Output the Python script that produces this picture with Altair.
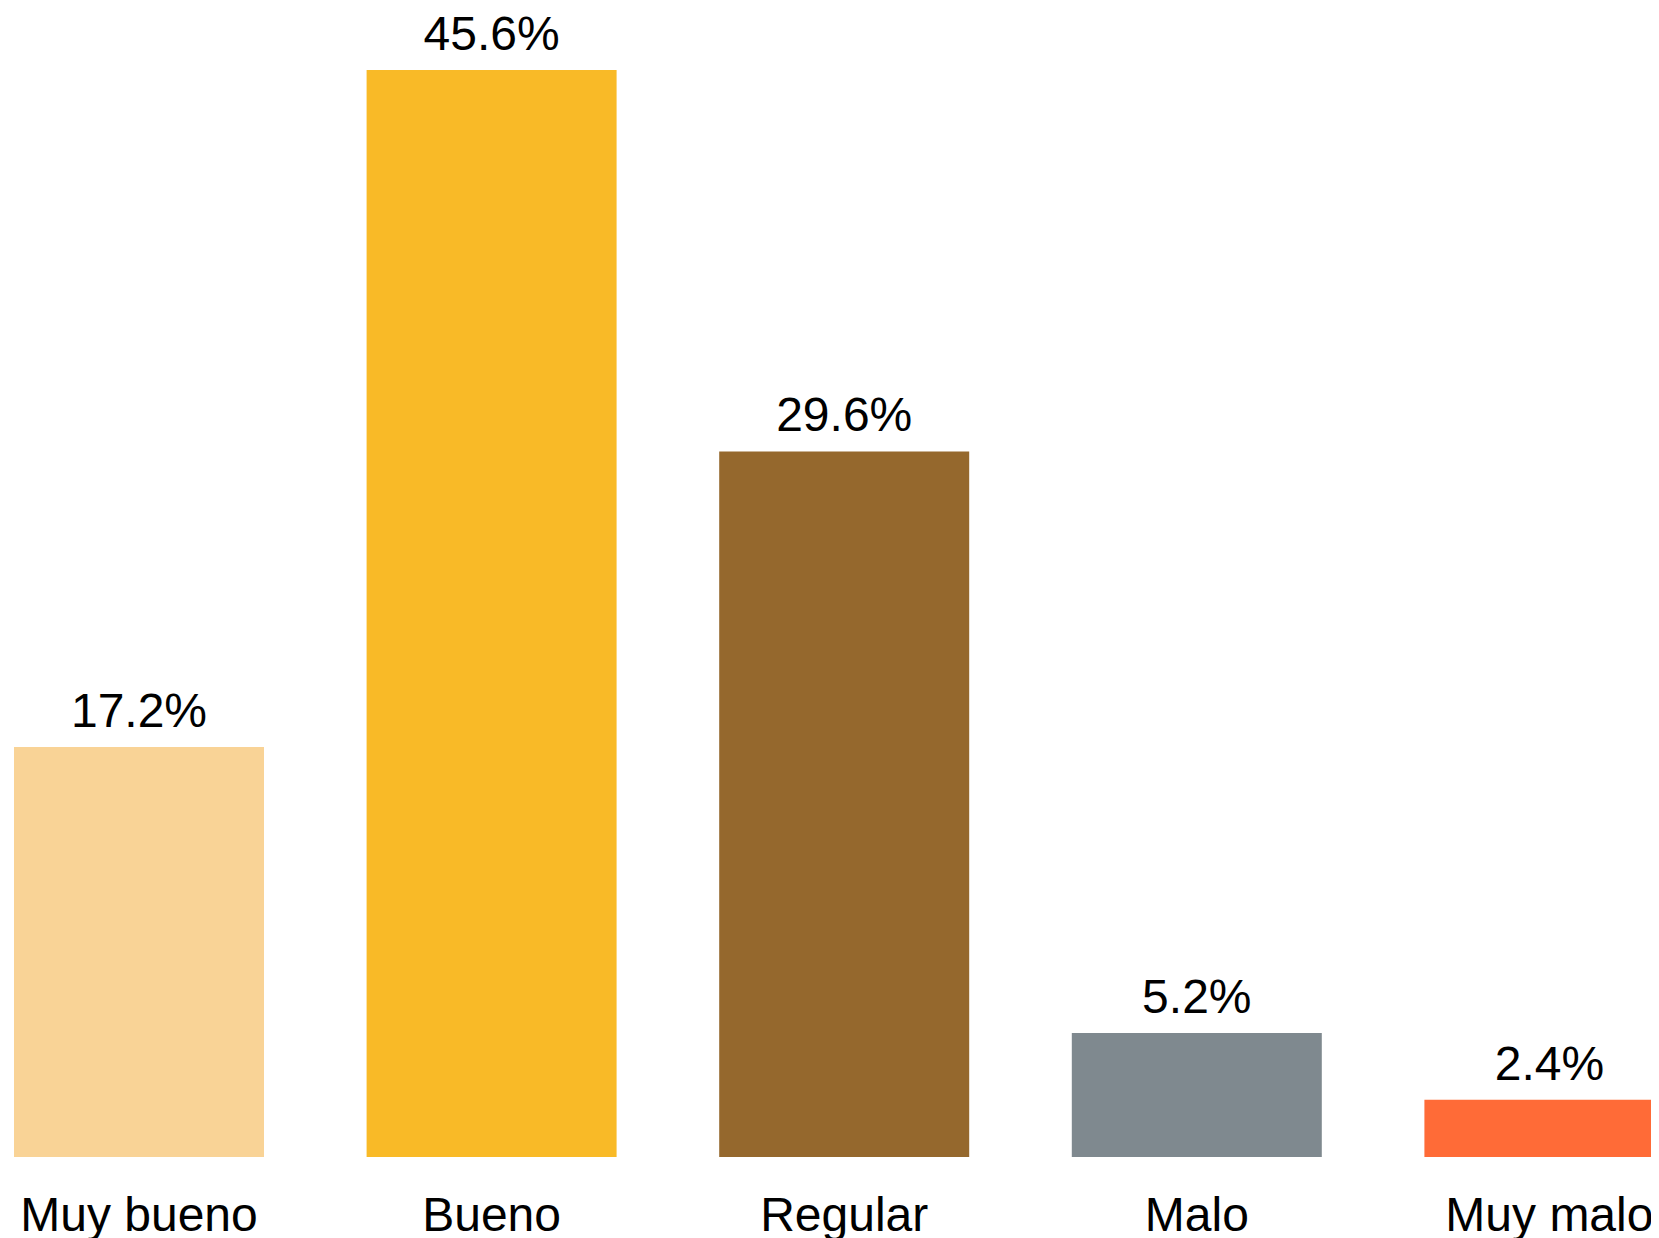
import altair as alt
import pandas as pd

categories = ["Muy bueno", "Bueno", "Regular", "Malo", "Muy malo"]
values = [17.2, 45.6, 29.6, 5.2, 2.4]
colors = ["#F9D396", "#F9BA27", "#95682D", "#7F898F", "#FF6B37"]
labels = [f"{v:.1f}%" for v in values]

df = pd.DataFrame({"cat": categories, "val": values, "label": labels})

FONT = "Liberation Sans"

x = alt.X(
    "cat:N",
    sort=categories,
    title=None,
    scale=alt.Scale(paddingInner=0.291, paddingOuter=0, range=[0, 1660.4]),
    axis=alt.Axis(
        domain=False,
        ticks=False,
        labelFontSize=48,
        labelFont=FONT,
        labelColor="#000000",
        labelBaseline="alphabetic",
        labelPadding=73,
        labelAngle=0,
        labelOverlap=False,
        labelLimit=0,
    ),
)
y = alt.Y(
    "val:Q",
    title=None,
    scale=alt.Scale(domain=[0, 45.6], nice=False, zero=True),
    axis=None,
)

bars = alt.Chart(df).mark_bar().encode(
    x=x,
    y=y,
    color=alt.Color("cat:N", scale=alt.Scale(domain=categories, range=colors), legend=None),
)

text = alt.Chart(df).mark_text(
    fontSize=48, font=FONT, color="#000000", baseline="alphabetic", dy=-20
).encode(
    x=alt.X("cat:N", sort=categories),
    y=alt.Y("val:Q"),
    text="label:N",
)

chart = (
    alt.layer(bars, text)
    .properties(
        width=1637,
        height=1087,
        autosize=alt.AutoSizeParams(type="none"),
        padding={"left": 6, "top": 62, "right": 0, "bottom": 84},
    )
    .configure_view(stroke=None)
)

chart.save("out.html", embed_options={"renderer": "svg", "actions": False})
